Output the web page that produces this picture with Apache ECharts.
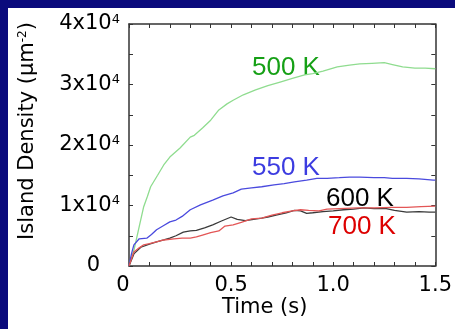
<!DOCTYPE html>
<html>
<head>
<meta charset="utf-8">
<script src="https://cdn.jsdelivr.net/npm/echarts@6/dist/echarts.min.js"></script>
<style>
  html, body { margin: 0; padding: 0; background: #0a0a7c; }
  #frame { position: absolute; left: 8px; top: 8px; width: 447px; height: 321px; background: #ffffff; }
  #chart { position: absolute; left: 0; top: 0; width: 455px; height: 329px; }
</style>
</head>
<body>
<div id="frame"></div>
<div id="chart"></div>
<script>
// Island density vs. deposition time at four substrate temperatures
const t500 = [0, 0.01, 0.024, 0.05, 0.072, 0.09, 0.106, 0.14, 0.17, 0.2, 0.25, 0.3, 0.32, 0.36, 0.4, 0.44, 0.48, 0.51, 0.56, 0.62, 0.68, 0.74, 0.8, 0.86, 0.9, 0.95, 1.02, 1.08, 1.13, 1.19, 1.25, 1.29, 1.34, 1.4, 1.45, 1.5];
const v500 = [0, 1200, 2600, 6500, 9800, 11500, 13100, 15000, 16700, 18000, 19500, 21300, 21600, 22800, 24100, 25800, 26800, 27400, 28300, 29100, 29800, 30400, 31000, 31600, 31800, 32200, 32900, 33200, 33400, 33500, 33600, 33300, 32900, 32700, 32700, 32600];

const t550 = [0, 0.012, 0.024, 0.05, 0.087, 0.11, 0.135, 0.17, 0.2, 0.23, 0.26, 0.3, 0.35, 0.41, 0.46, 0.51, 0.55, 0.6, 0.65, 0.71, 0.76, 0.81, 0.87, 0.92, 0.97, 1.03, 1.08, 1.13, 1.2, 1.25, 1.29, 1.36, 1.42, 1.49, 1.5];
const v550 = [0, 2000, 3500, 4500, 4600, 5200, 6000, 6700, 7300, 7600, 8200, 9300, 10100, 10900, 11600, 12100, 12700, 12900, 13100, 13400, 13600, 13900, 14200, 14500, 14500, 14600, 14700, 14700, 14600, 14600, 14500, 14500, 14400, 14200, 14200];

const t600 = [0, 0.024, 0.058, 0.1, 0.135, 0.17, 0.2, 0.23, 0.266, 0.3, 0.33, 0.37, 0.41, 0.45, 0.5, 0.53, 0.57, 0.61, 0.65, 0.68, 0.72, 0.77, 0.81, 0.84, 0.87, 0.9, 0.95, 1.0, 1.05, 1.1, 1.15, 1.2, 1.26, 1.3, 1.36, 1.42, 1.47, 1.5];
const v600 = [0, 2000, 3100, 3600, 4000, 4300, 4600, 5000, 5600, 5800, 5900, 6300, 6800, 7400, 8100, 7700, 7500, 7700, 7900, 8100, 8400, 8800, 9200, 9100, 8700, 8800, 9000, 9100, 9300, 9400, 9600, 9500, 9500, 9200, 8900, 9000, 8900, 8900];

const t700 = [0, 0.024, 0.05, 0.072, 0.1, 0.135, 0.17, 0.22, 0.26, 0.3, 0.33, 0.36, 0.4, 0.44, 0.47, 0.51, 0.55, 0.6, 0.65, 0.7, 0.75, 0.8, 0.84, 0.88, 0.93, 0.97, 1.03, 1.12, 1.2, 1.29, 1.36, 1.43, 1.5];
const v700 = [0, 2300, 3000, 3500, 3700, 4000, 4300, 4500, 4600, 4600, 4800, 5100, 5500, 5800, 6600, 6800, 7200, 7800, 7900, 8400, 8800, 9100, 9300, 9200, 9100, 9400, 9500, 9600, 9600, 9700, 9700, 9800, 9900];

const seriesNames = ['500 K', '550 K', '600 K', '700 K'];
const xTickLabels = ['0', '0.5', '1.0', '1.5'];
const yTickLabels = ['0', '1x10', '2x10', '3x10', '4x10'];

const lineColors = ['#8fdc8f', '#4a4ade', '#3a3a3a', '#e35656'];
const textColors = ['#16a016', '#3c3ce0', '#000000', '#dd0000'];

function pairs(ts, vs) { return ts.map((t, i) => [t, vs[i]]); }

const chart = echarts.init(document.getElementById('chart'), null, { renderer: 'canvas' });
const AXFONT = 'DejaVu Sans, Verdana, sans-serif';
const LBFONT = 'Liberation Sans, Arial, sans-serif';
const frameColor = '#333333';

function xLabel(v) {
  const k = Math.round(v * 2);
  if (Math.abs(v * 2 - k) > 1e-6) return '';
  if (k === 0) return '{o|' + xTickLabels[0] + '}';
  return '{n|' + (xTickLabels[k] || '') + '}';
}
function yLabel(v) {
  const k = Math.round(v / 10000);
  if (Math.abs(v - k * 10000) > 1e-6) return '';
  if (k === 0) return '{z|' + yTickLabels[0] + '}';
  return '{b|' + yTickLabels[k] + '}{s|4}';
}

const axisCommon = {
  axisLine: { show: true, onZero: false, lineStyle: { color: frameColor, width: 1.5 } },
  axisTick: { show: true, inside: true, length: 4, lineStyle: { color: frameColor, width: 1 } },
  splitLine: { show: false }
};

const option = {
  animation: false,
  backgroundColor: 'transparent',
  grid: { left: 129, right: 15, top: 24, bottom: 63, containLabel: false },
  xAxis: [
    Object.assign({
      type: 'value', position: 'bottom', min: 0, max: 1.5, interval: 0.1,
      axisLabel: {
        formatter: xLabel, margin: 9, showMinLabel: true, showMaxLabel: true,
        rich: {
          n: { fontFamily: AXFONT, fontSize: 21, color: '#000' },
          o: { fontFamily: AXFONT, fontSize: 21, color: '#000', padding: [0, 12, 0, 0] }
        }
      }
    }, axisCommon),
    Object.assign({
      type: 'value', position: 'top', min: 0, max: 1.5, interval: 0.1,
      axisLabel: { show: false }
    }, axisCommon)
  ],
  yAxis: [
    Object.assign({
      type: 'value', position: 'left', min: 0, max: 40000, interval: 5000,
      axisLabel: {
        formatter: yLabel, margin: 9, fontFamily: AXFONT,
        rich: {
          b: { fontFamily: AXFONT, fontSize: 21, color: '#000' },
          s: { fontFamily: AXFONT, fontSize: 13, color: '#000', verticalAlign: 'top', padding: [0, 0, 9, 0] },
          z: { fontFamily: AXFONT, fontSize: 21, color: '#000', padding: [0, 20, 0, 0] }
        }
      }
    }, axisCommon),
    Object.assign({
      type: 'value', position: 'right', min: 0, max: 40000, interval: 5000,
      axisLabel: { show: false }
    }, axisCommon)
  ],
  series: [
    { name: seriesNames[0], data: pairs(t500, v500) },
    { name: seriesNames[1], data: pairs(t550, v550) },
    { name: seriesNames[2], data: pairs(t600, v600) },
    { name: seriesNames[3], data: pairs(t700, v700) }
  ].map((s, i) => Object.assign(s, {
    type: 'line', xAxisIndex: 0, yAxisIndex: 0, showSymbol: false, smooth: false,
    lineStyle: { color: lineColors[i], width: 1.3 }, z: 2 + (i === 3 ? 1 : 0)
  })),
  graphic: [
    { type: 'text', left: 222, top: 297, style: { text: 'Time (s)', font: '21px ' + AXFONT, fill: '#000' } },
    { type: 'text', x: 17, y: 131, rotation: Math.PI / 2,
      style: {
        text: '{a|Island Density (µm}{s|-2}{a|)}', align: 'center', verticalAlign: 'top',
        rich: {
          a: { fontFamily: AXFONT, fontSize: 21, fill: '#000' },
          s: { fontFamily: AXFONT, fontSize: 12, fill: '#000', verticalAlign: 'top', padding: [0, 0, 9, 0] }
        }
      } },
    { type: 'text', left: 252, top: 55, style: { text: seriesNames[0], font: '26px ' + LBFONT, fill: textColors[0] } },
    { type: 'text', left: 252, top: 155, style: { text: seriesNames[1], font: '26px ' + LBFONT, fill: textColors[1] } },
    { type: 'text', left: 326, top: 186, style: { text: seriesNames[2], font: '26px ' + LBFONT, fill: textColors[2] } },
    { type: 'text', left: 328, top: 214, style: { text: seriesNames[3], font: '26px ' + LBFONT, fill: textColors[3] } }
  ]
};
chart.setOption(option);
</script>
</body>
</html>
